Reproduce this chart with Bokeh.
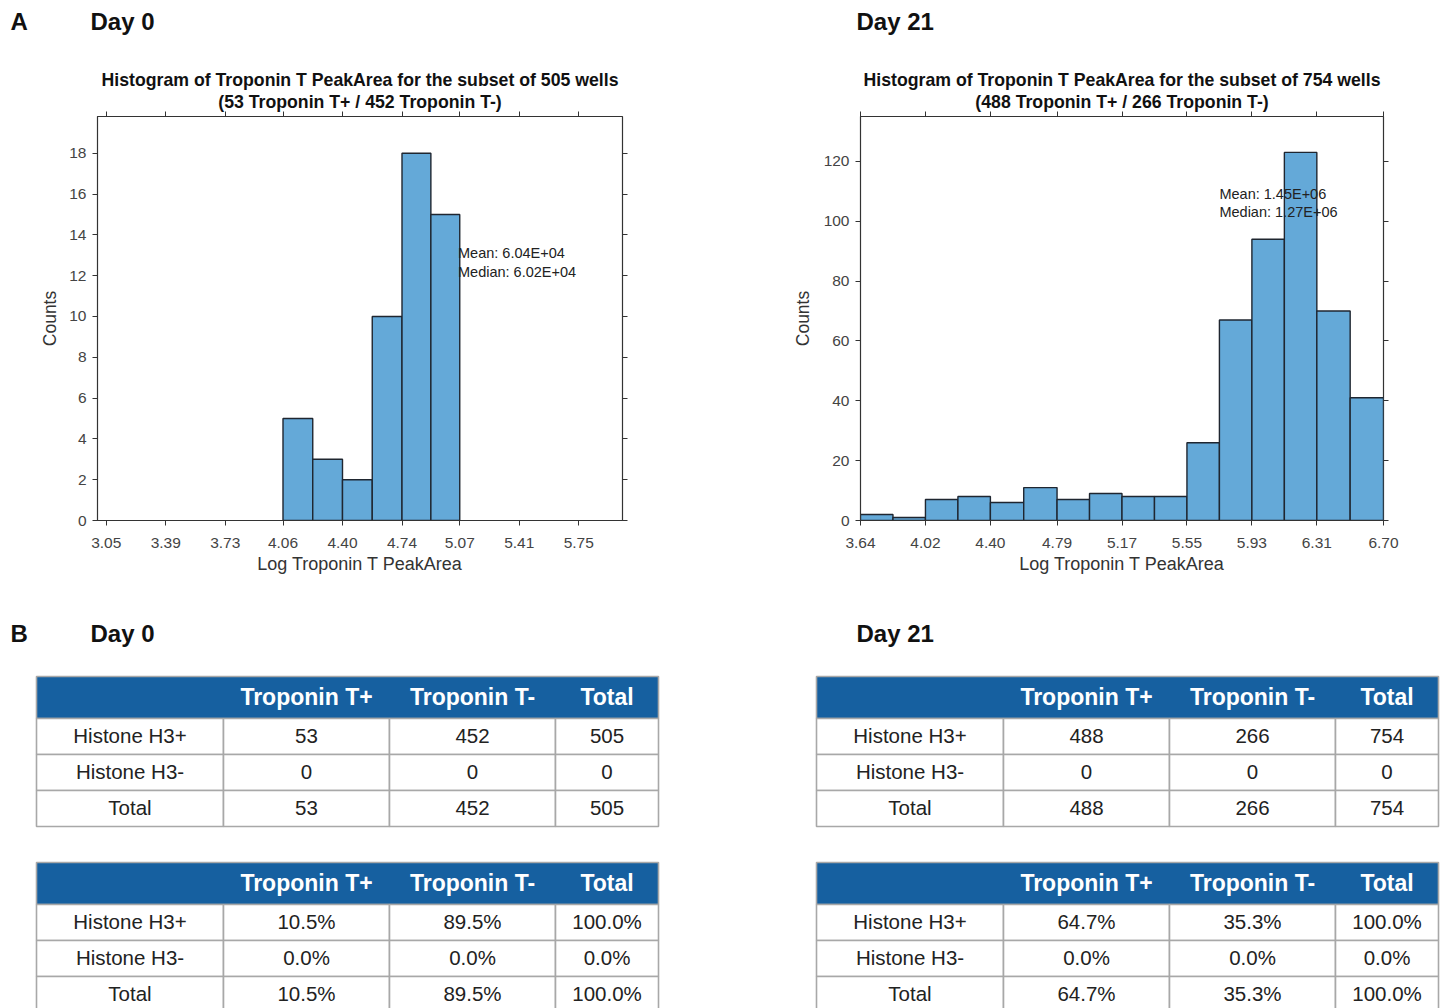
from bokeh.plotting import figure
from bokeh.layouts import column, row
from bokeh.models import LinearAxis, FixedTicker, Title, Range1d
from bokeh.core.properties import value
from bokeh.embed import file_html
from bokeh.resources import INLINE

# ---------------- data ----------------
day0_edges = [4.06, 4.23, 4.40, 4.57, 4.74, 4.905, 5.07]
day0_counts = [5, 3, 2, 10, 18, 15]
day0_xticks = ["3.05", "3.39", "3.73", "4.06", "4.40", "4.74", "5.07", "5.41", "5.75"]
day0_yticks = [0, 2, 4, 6, 8, 10, 12, 14, 16, 18]
day0_title = ["Histogram of Troponin T PeakArea for the subset of 505 wells",
              "(53 Troponin T+ / 452 Troponin T-)"]
day0_stats = ["Mean: 6.04E+04", "Median: 6.02E+04"]

day21_edges = [3.64, 3.83, 4.02, 4.21, 4.40, 4.595, 4.79, 4.98, 5.17, 5.36,
               5.55, 5.74, 5.93, 6.12, 6.31, 6.505, 6.70]
day21_counts = [2, 1, 7, 8, 6, 11, 7, 9, 8, 8, 26, 67, 94, 123, 70, 41]
day21_xticks = ["3.64", "4.02", "4.40", "4.79", "5.17", "5.55", "5.93", "6.31", "6.70"]
day21_yticks = [0, 20, 40, 60, 80, 100, 120]
day21_title = ["Histogram of Troponin T PeakArea for the subset of 754 wells",
               "(488 Troponin T+ / 266 Troponin T-)"]
day21_stats = ["Mean: 1.45E+06", "Median: 1.27E+06"]

table_cols = ["Troponin T+", "Troponin T-", "Total"]
table_rows = ["Histone H3+", "Histone H3-", "Total"]
day0_table_counts = [["53", "452", "505"], ["0", "0", "0"], ["53", "452", "505"]]
day0_table_pct = [["10.5%", "89.5%", "100.0%"], ["0.0%", "0.0%", "0.0%"], ["10.5%", "89.5%", "100.0%"]]
day21_table_counts = [["488", "266", "754"], ["0", "0", "0"], ["488", "266", "754"]]
day21_table_pct = [["64.7%", "35.3%", "100.0%"], ["0.0%", "0.0%", "0.0%"], ["64.7%", "35.3%", "100.0%"]]

# ---------------- styles ----------------
SANS = "Liberation Sans"
BAR_FILL = "#64A9D8"
BAR_LINE = "#1f2630"
HEAD_BLUE = "#1660A0"
GRID_GREY = "#A8A8A8"
AXIS_COL = "#333333"
TICK_COL = "#444444"


def histogram(edges, counts, xticks, yticks, xr, yr, title, stats, stats_xy,
              width, border_left, frame_w, border_right, ylab_standoff):
    p = figure(width=width, height=536, output_backend="svg", toolbar_location=None,
               x_range=Range1d(*xr), y_range=Range1d(*yr),
               frame_width=frame_w, frame_height=404,
               min_border_left=border_left, min_border_right=border_right,
               min_border_top=52, min_border_bottom=80,
               x_axis_label="Log Troponin T PeakArea", y_axis_label="Counts")
    p.grid.visible = False
    p.outline_line_color = AXIS_COL
    p.outline_line_width = 1.2
    p.background_fill_color = "white"
    p.border_fill_color = "white"

    xt = [float(t) for t in xticks]
    p.quad(left=edges[:-1], right=edges[1:], bottom=0, top=counts,
           fill_color=BAR_FILL, line_color=BAR_LINE, line_width=1.4)

    for ax, ticks in ((p.xaxis[0], xt), (p.yaxis[0], yticks)):
        ax.ticker = FixedTicker(ticks=ticks)
        ax.axis_line_color = AXIS_COL
        ax.major_tick_line_color = AXIS_COL
        ax.major_tick_out = 5
        ax.major_tick_in = 0
        ax.minor_tick_out = 0
        ax.minor_tick_in = 0
        ax.major_label_text_font = SANS
        ax.major_label_text_font_size = "15.5px"
        ax.major_label_text_color = TICK_COL
        ax.axis_label_text_font = SANS
        ax.axis_label_text_font_style = "normal"
        ax.axis_label_text_color = AXIS_COL
    p.xaxis[0].major_label_overrides = {v: s for v, s in zip(xt, xticks)}
    p.xaxis[0].major_label_standoff = 12
    p.xaxis[0].axis_label_standoff = 3
    p.xaxis[0].axis_label_text_font_size = "18px"
    p.yaxis[0].major_label_standoff = 6
    p.yaxis[0].axis_label_standoff = ylab_standoff
    p.yaxis[0].axis_label_text_font_size = "17.5px"

    # ticks on the top and right sides, without labels
    for side, ticks in (("above", xt), ("right", yticks)):
        ax = LinearAxis(ticker=FixedTicker(ticks=ticks))
        ax.axis_line_color = None
        ax.major_tick_line_color = AXIS_COL
        ax.major_tick_out = 5
        ax.major_tick_in = 0
        ax.minor_tick_out = 0
        ax.minor_tick_in = 0
        ax.major_label_text_font_size = "1px"
        ax.major_label_text_alpha = 0
        ax.major_label_standoff = 0
        p.add_layout(ax, side)

    for line in reversed(title):
        t = Title(text=line, align="center", text_font=SANS, text_font_style="bold",
                  text_font_size="17.7px", text_color="#111111", standoff=0, offset=0)
        p.add_layout(t, "above")

    sx, sy, dy = stats_xy
    p.text(x=[sx, sx], y=[sy, sy - dy], text=stats, text_font=value(SANS),
           text_font_size="14.5px", text_color="#222222",
           text_align="left", text_baseline="middle")
    return p


hist0 = histogram(day0_edges, day0_counts, day0_xticks, day0_yticks, (3.0, 6.0), (0, 19.8),
                  day0_title, day0_stats, (5.06, 13.1, 0.9), 778, 97, 525, 156, 6)
hist21 = histogram(day21_edges, day21_counts, day21_xticks, day21_yticks, (3.64, 6.70), (0, 135),
                   day21_title, day21_stats, (5.74, 109, 6), 669, 82, 523, 64, 8)


def text_canvas(width, height):
    p = figure(width=width, height=height, output_backend="svg", toolbar_location=None,
               x_range=Range1d(0, width), y_range=Range1d(height, 0),
               min_border=0)
    p.axis.visible = False
    p.grid.visible = False
    p.outline_line_color = None
    p.background_fill_color = "white"
    p.border_fill_color = "white"
    return p


header = text_canvas(1447, 64)
header.text(x=[10, 90, 856], y=[21, 21, 21], text=["A", "Day 0", "Day 21"],
            text_font=value(SANS), text_font_style="bold",
            text_font_size="24px", text_color="#111111",
            text_align="left", text_baseline="middle")


COL_W = [187, 166, 166, 103]
HEAD_H = 42
ROW_H = 36


def draw_table(p, x0, y0, cells):
    bounds = [x0]
    for w in COL_W:
        bounds.append(bounds[-1] + w)
    # header
    p.quad(left=[bounds[0]], right=[bounds[-1]], top=[y0], bottom=[y0 + HEAD_H],
           fill_color=HEAD_BLUE, line_color=GRID_GREY, line_width=1.6)
    cx = [(bounds[i] + bounds[i + 1]) / 2 for i in range(len(COL_W))]
    p.text(x=cx[1:], y=[y0 + HEAD_H / 2 - 1] * 3, text=table_cols,
           text_font=value(SANS), text_font_style="bold", text_font_size="23px",
           text_color="white", text_align="center", text_baseline="middle")
    # body
    lefts, rights, tops, bottoms, xs, ys, labels = [], [], [], [], [], [], []
    for r, rname in enumerate(table_rows):
        top = y0 + HEAD_H + r * ROW_H
        vals = [rname] + cells[r]
        for c in range(len(COL_W)):
            lefts.append(bounds[c]); rights.append(bounds[c + 1])
            tops.append(top); bottoms.append(top + ROW_H)
            xs.append(cx[c]); ys.append(top + ROW_H / 2 - 1); labels.append(vals[c])
    p.quad(left=lefts, right=rights, top=tops, bottom=bottoms,
           fill_color="white", line_color=GRID_GREY, line_width=1.6)
    p.text(x=xs, y=ys, text=labels, text_font=value(SANS), text_font_size="20.5px",
           text_color="#222222", text_align="center", text_baseline="middle")


tab0 = text_canvas(778, 408)
tab0.text(x=[10, 90], y=[33, 33], text=["B", "Day 0"], text_font=value(SANS),
          text_font_style="bold", text_font_size="24px", text_color="#111111",
          text_align="left", text_baseline="middle")
draw_table(tab0, 36, 76, day0_table_counts)
draw_table(tab0, 36, 262, day0_table_pct)

tab21 = text_canvas(669, 408)
tab21.text(x=[78], y=[33], text=["Day 21"], text_font=value(SANS),
           text_font_style="bold", text_font_size="24px", text_color="#111111",
           text_align="left", text_baseline="middle")
draw_table(tab21, 38, 76, day21_table_counts)
draw_table(tab21, 38, 262, day21_table_pct)

layout = column(header, row(hist0, hist21), row(tab0, tab21))
open("out.html", "w").write(file_html(layout, INLINE))
